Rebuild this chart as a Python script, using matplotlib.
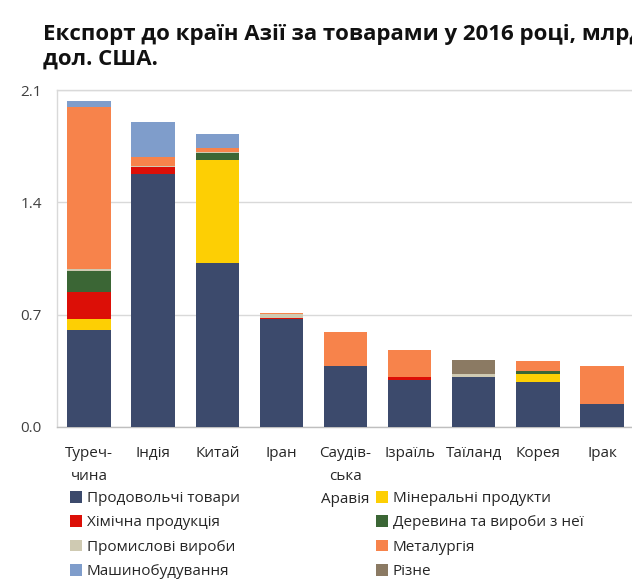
import matplotlib
matplotlib.use("Agg")
import matplotlib.pyplot as plt
import numpy as np
from matplotlib.patches import Patch

plt.rcParams['font.family'] = ['Open Sans', 'DejaVu Sans']

countries = ["Туреч-\nчина", "Індія", "Китай", "Іран", "Саудів-\nська\nАравія",
             "Ізраїль", "Таїланд", "Корея", "Ірак"]

series_names = ["Продовольчі товари", "Мінеральні продукти", "Хімічна продукція",
                "Деревина та вироби з неї", "Промислові вироби", "Металургія",
                "Машинобудування", "Різне"]

food        = [0.607, 1.575, 1.022, 0.675, 0.382, 0.293, 0.313, 0.278, 0.143]
mineral     = [0.068, 0.000, 0.640, 0.000, 0.000, 0.000, 0.000, 0.052, 0.000]
chemical    = [0.166, 0.048, 0.000, 0.003, 0.000, 0.017, 0.000, 0.000, 0.000]
wood        = [0.130, 0.000, 0.045, 0.000, 0.000, 0.000, 0.000, 0.019, 0.000]
industrial  = [0.015, 0.006, 0.004, 0.025, 0.000, 0.004, 0.020, 0.000, 0.000]
metallurgy  = [1.007, 0.056, 0.027, 0.005, 0.210, 0.166, 0.000, 0.062, 0.235]
machinery   = [0.037, 0.214, 0.087, 0.000, 0.000, 0.000, 0.000, 0.000, 0.000]
misc        = [0.000, 0.000, 0.000, 0.000, 0.000, 0.000, 0.083, 0.000, 0.000]

series = [food, mineral, chemical, wood, industrial, metallurgy, machinery, misc]
colors = ["#3C4A6C", "#FDCF04", "#DC0F07", "#3B6635", "#CFCAB2", "#F7834B",
          "#7F9DCB", "#8B7A63"]

yticks = [0.0, 0.7, 1.4, 2.1]

fig = plt.figure(figsize=(6.32, 5.79), dpi=100)
ax = fig.add_axes([57/632, (579-427)/579, (634-57)/632, (427-90)/579])

x = np.arange(len(countries))
bottom = np.zeros(len(countries))
handles = []
for vals, col, name in zip(series, colors, series_names):
    v = np.array(vals)
    ax.bar(x, v, bottom=bottom, width=0.677, color=col, edgecolor='none', zorder=3)
    bottom += v
    handles.append(Patch(facecolor=col, edgecolor='none', label=name))

ax.set_xlim(-0.5, 8.5)
ax.set_ylim(0, 2.1)
ax.set_yticks(yticks)
ax.set_yticklabels([f"{t:.1f}" for t in yticks])
ax.set_xticks(x)
ax.set_xticklabels(countries, linespacing=1.7, va='top')
ax.tick_params(axis='y', length=0, pad=11, labelsize=11, labelcolor='#404040')
ax.tick_params(axis='x', length=0, pad=14, labelsize=11, labelcolor='#262626')
ax.grid(axis='y', color='#D9D9D9', linewidth=1, zorder=0)
for s in ['left', 'top', 'right']:
    ax.spines[s].set_color('#D9D9D9')
    ax.spines[s].set_linewidth(1)
ax.spines['bottom'].set_color('#BFBFBF')
ax.spines['bottom'].set_linewidth(1)
ax.set_axisbelow(True)

fig.text(43/632, 1-24/579, "Експорт до країн Азії за товарами у 2016 році, млрд\nдол. США.",
         fontsize=16, fontweight='bold', color='#111111', ha='left', va='top',
         linespacing=1.2)

order = [0, 2, 4, 6, 1, 3, 5, 7]
leg = fig.legend([handles[i] for i in order], [series_names[i] for i in order],
                 ncol=2, loc='upper left', bbox_to_anchor=(70/632, 1-491/579),
                 frameon=False, fontsize=11, handlelength=0.8, handleheight=0.8,
                 handletextpad=0.3, labelspacing=0.6, columnspacing=8.9,
                 borderpad=0, borderaxespad=0)
for t in leg.get_texts():
    t.set_color('#262626')

fig.savefig("out.png", dpi=100)
